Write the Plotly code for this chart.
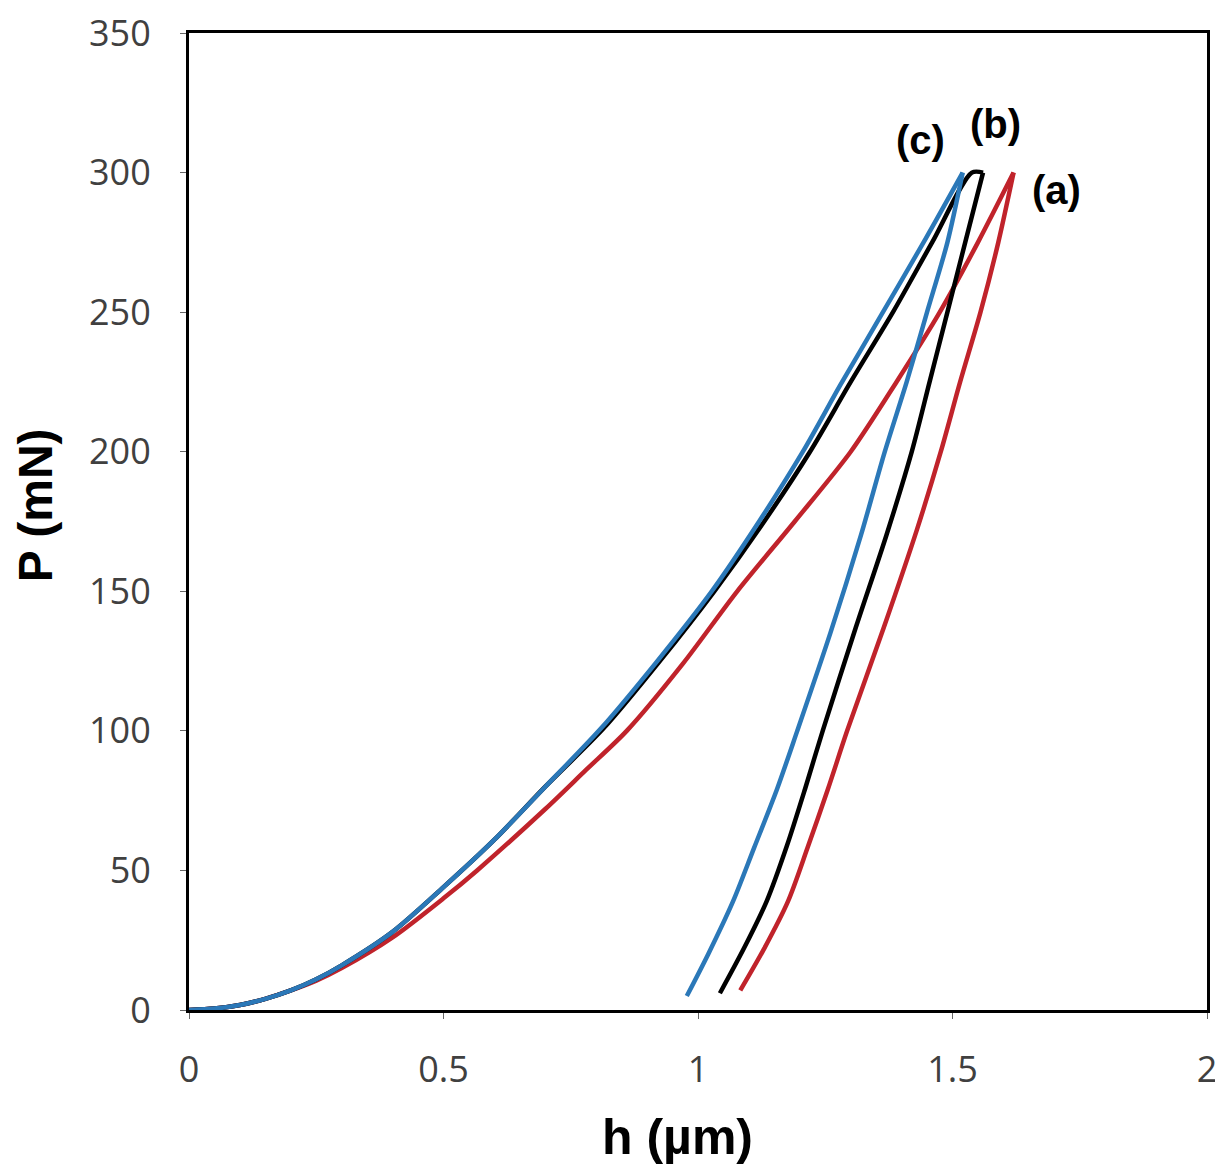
import plotly.graph_objects as go

# (a) red
a_load_h = [0, 0.05, 0.1, 0.15, 0.2, 0.25, 0.3, 0.4, 0.5, 0.566, 0.7, 0.78, 0.86, 0.97, 1.077, 1.19, 1.30, 1.39, 1.475, 1.55, 1.62]
a_load_P = [0, 0.5, 1.8, 4, 7, 10.5, 15, 26, 40, 50, 72, 86, 100, 124, 150, 175, 200, 225, 250, 275, 300]
a_unl_h = [1.62, 1.59, 1.555, 1.515, 1.477, 1.43, 1.365, 1.293, 1.255, 1.215, 1.177, 1.13, 1.083]
a_unl_P = [300, 275, 250, 225, 200, 172, 137, 100, 79, 58, 39, 22, 7]

# (b) black
b_load_h = [0, 0.05, 0.1, 0.15, 0.2, 0.25, 0.3, 0.4, 0.5, 0.6, 0.7, 0.815, 0.925, 1.032, 1.13, 1.22, 1.30, 1.383, 1.46, 1.538, 1.56]
b_load_P = [0, 0.5, 1.8, 4, 7, 11, 16, 28, 44, 61, 80, 101, 125, 150, 175, 200, 225, 250, 275, 300, 300]
b_unl_h = [1.56, 1.525, 1.49, 1.455, 1.42, 1.37, 1.31, 1.245, 1.21, 1.175, 1.135, 1.09, 1.043]
b_unl_P = [300, 275, 250, 225, 200, 170, 137, 100, 79, 59, 39, 22, 6]

# (c) blue
c_load_h = [0, 0.05, 0.1, 0.15, 0.2, 0.25, 0.3, 0.4, 0.5, 0.6, 0.7, 0.81, 0.92, 1.027, 1.12, 1.206, 1.28, 1.357, 1.44, 1.52]
c_load_P = [0, 0.5, 1.8, 4, 7, 11, 16, 28, 44, 61, 80, 101, 125, 150, 175, 200, 224, 248, 274, 300]
c_unl_h = [1.52, 1.49, 1.45, 1.41, 1.367, 1.32, 1.26, 1.195, 1.155, 1.11, 1.069, 1.02, 0.978]
c_unl_P = [300, 275, 250, 225, 200, 170, 135, 100, 79, 58, 39, 20, 5]

labels = ["(a)", "(b)", "(c)"]
label_h = [1.705, 1.585, 1.438]
label_P = [293.8, 317.4, 311.7]

x_ticks = [0, 0.5, 1, 1.5, 2]
x_tick_text = ["0", "0.5", "1", "1.5", "2"]
y_ticks = [0, 50, 100, 150, 200, 250, 300, 350]

x_title = "h (µm)"
y_title = "P (mN)"

colors = {"a": "#C0232B", "b": "#000000", "c": "#2B78B8"}

fig = go.Figure()
series = [
    ("a", a_load_h, a_load_P), ("a", a_unl_h, a_unl_P),
    ("b", b_load_h, b_load_P), ("b", b_unl_h, b_unl_P),
    ("c", c_load_h, c_load_P), ("c", c_unl_h, c_unl_P),
]
for key, hh, pp in series:
    fig.add_trace(go.Scatter(x=hh, y=pp, mode="lines",
                             line=dict(color=colors[key], width=4.5, shape="spline", smoothing=0.8),
                             showlegend=False))

for t, hx, py in zip(labels, label_h, label_P):
    fig.add_annotation(x=hx, y=py, text="<b>" + t + "</b>", showarrow=False,
                       font=dict(family="Liberation Sans", size=40, color="#000000"),
                       xanchor="center", yanchor="middle")

# axis titles placed as paper annotations
fig.add_annotation(xref="paper", yref="paper", x=0.480, y=-0.130, text="<b>" + x_title + "</b>",
                   showarrow=False, xanchor="center", yanchor="middle",
                   font=dict(family="Liberation Sans", size=50, color="#000000"))
fig.add_annotation(xref="paper", yref="paper", x=-0.150, y=0.517, text="<b>" + y_title + "</b>",
                   showarrow=False, xanchor="center", yanchor="middle", textangle=-90,
                   font=dict(family="Liberation Sans", size=48, color="#000000"))

axis_common = dict(showgrid=False, zeroline=False, showline=True, linecolor="black",
                   linewidth=3, mirror=True, ticks="outside", ticklen=6,
                   tickcolor="#666666", tickwidth=1, ticklabeloverflow="allow",
                   tickfont=dict(family="Open Sans", size=36, color="#404040"))

fig.update_xaxes(range=[0, 2], tickvals=x_ticks, ticktext=x_tick_text,
                 ticklabelstandoff=20, **axis_common)
fig.update_yaxes(range=[0, 350], tickvals=y_ticks,
                 ticklabelstandoff=22, **axis_common)

fig.update_layout(width=1223, height=1171,
                  margin=dict(l=181, r=24, t=25, b=169, autoexpand=False),
                  plot_bgcolor="white", paper_bgcolor="white")

fig.write_html("out.html")
